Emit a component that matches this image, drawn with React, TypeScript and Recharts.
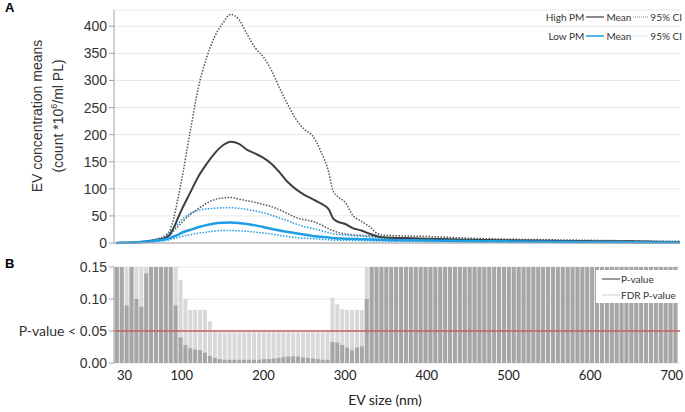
import React from 'react';
import { ComposedChart, Line, Bar, XAxis, YAxis, CartesianGrid, ReferenceLine } from 'recharts';

// EV size (nm) for the concentration curves
const sizes = [20, 30, 40, 50, 60, 70, 80, 85, 90, 95, 100, 110, 120, 130, 140, 150, 160, 170, 180, 190, 200, 210, 220, 230, 240, 250, 260, 270, 280, 285, 290, 300, 310, 320, 330, 340, 350, 375, 400, 450, 500, 550, 600, 650, 700, 710];
const highMean = [0, 0.5, 1, 2, 3.5, 6, 10, 15, 28, 45, 62, 92, 122, 145, 165, 180, 187, 183, 172, 165, 157, 146, 130, 112, 99, 89, 81, 73, 62, 46, 40, 35, 27, 23, 17, 12, 10, 9, 8, 6, 5, 4, 3.5, 3, 2, 2];
const highUpper = [0, 0.6, 1.3, 2.5, 4.5, 8, 14, 22, 45, 80, 118, 203, 285, 340, 380, 405, 422, 412, 385, 360, 343, 318, 285, 255, 228, 210, 198, 170, 130, 97, 87, 75, 50, 40, 30, 17, 14, 13, 12, 9, 7, 6, 5, 4, 3, 3];
const highLower = [0, 0.3, 0.6, 1.2, 2, 4, 8, 13, 22, 30, 38, 52, 63, 73, 80, 83, 84, 81, 78, 75, 71, 67, 61, 54, 47, 43, 40, 34, 26, 23, 20, 17, 15, 14, 13, 12, 10, 7, 6, 4.5, 3.5, 3, 2.5, 2, 1.5, 1.5];
const lowMean = [0, 0.5, 1, 1.8, 3, 5, 7, 9, 12, 15, 19, 24, 29, 33, 36, 37.5, 38, 37, 35, 32.5, 29.5, 26, 23, 20.5, 18, 15.5, 13, 11.5, 10, 9, 8.5, 8, 7.5, 7, 6.5, 6, 5.5, 5, 4.5, 3.5, 3, 2.5, 2, 1.5, 1, 1];
const lowUpper = [0, 0.6, 1.2, 2.2, 4, 7, 12, 20, 27, 35, 43, 54, 60, 63, 64, 65, 65, 64, 62, 59, 56, 51, 46, 41, 35, 30, 27, 23, 19, 17, 16, 14.5, 13.5, 12.5, 11, 10, 9, 8, 7, 5.5, 4.5, 3.5, 3, 2.5, 2, 2];
const lowLower = [0, 0.3, 0.6, 1, 1.8, 3, 4.5, 6, 8, 10, 12, 15, 18, 20, 22, 23, 23, 22.5, 21.5, 20, 18.5, 16.5, 14, 12, 10, 9, 8, 7, 6, 5.5, 5.2, 5, 4.8, 4.5, 4, 3.8, 3.5, 3, 2.5, 2, 1.5, 1.2, 1, 0.8, 0.5, 0.5];

// size bins for the P-value panel
const bins = [21, 27, 33, 39, 45, 51, 57, 63, 69, 75, 81, 87, 93, 99, 105, 111, 117, 123, 129, 135, 141, 147, 153, 159, 165, 171, 177, 183, 189, 195, 201, 207, 213, 219, 225, 231, 237, 243, 249, 255, 261, 267, 273, 279, 285, 291, 297, 303, 309, 315, 321, 327, 333, 339, 345, 351, 357, 363, 369, 375, 381, 387, 393, 399, 405, 411, 417, 423, 429, 435, 441, 447, 453, 459, 465, 471, 477, 483, 489, 495, 501, 507, 513, 519, 525, 531, 537, 543, 549, 555, 561, 567, 573, 579, 585, 591, 597, 603, 609, 615, 621, 627, 633, 639, 645, 651, 657, 663, 669, 675, 681, 687, 693, 699, 705];
const pValue = [0.31, 0.16, 0.09, 0.17, 0.1, 0.088, 0.14, 0.22, 0.35, 0.41, 0.3, 0.19, 0.09, 0.04, 0.028, 0.023, 0.021, 0.02, 0.016, 0.011, 0.008, 0.006, 0.005, 0.005, 0.005, 0.005, 0.005, 0.005, 0.005, 0.005, 0.006, 0.006, 0.007, 0.008, 0.009, 0.01, 0.0105, 0.01, 0.009, 0.008, 0.007, 0.006, 0.005, 0.005, 0.033, 0.032, 0.028, 0.024, 0.02, 0.024, 0.026, 0.1, 0.21, 0.33, 0.42, 0.5, 0.55, 0.48, 0.6, 0.62, 0.58, 0.66, 0.7, 0.64, 0.71, 0.68, 0.73, 0.75, 0.7, 0.77, 0.8, 0.74, 0.79, 0.82, 0.78, 0.84, 0.8, 0.86, 0.83, 0.88, 0.85, 0.87, 0.9, 0.86, 0.89, 0.91, 0.88, 0.9, 0.92, 0.9, 0.93, 0.91, 0.94, 0.92, 0.93, 0.95, 0.94, 0.93, 0.96, 0.95, 0.94, 0.96, 0.97, 0.95, 0.96, 0.97, 0.96, 0.98, 0.97, 0.96, 0.98, 0.97, 0.98, 0.99, 0.98];
const fdrPValue = [0.62, 0.4, 0.35, 0.4, 0.35, 0.34, 0.4, 0.5, 0.6, 0.65, 0.55, 0.45, 0.3, 0.13, 0.1, 0.083, 0.083, 0.083, 0.083, 0.065, 0.05, 0.048, 0.048, 0.048, 0.048, 0.048, 0.048, 0.048, 0.048, 0.048, 0.048, 0.048, 0.048, 0.048, 0.048, 0.048, 0.048, 0.048, 0.048, 0.048, 0.048, 0.048, 0.048, 0.048, 0.102, 0.092, 0.084, 0.083, 0.083, 0.083, 0.083, 0.2, 0.4, 0.52, 0.6, 0.66, 0.7, 0.66, 0.75, 0.76, 0.74, 0.79, 0.81, 0.78, 0.82, 0.8, 0.83, 0.85, 0.82, 0.86, 0.88, 0.84, 0.87, 0.89, 0.86, 0.9, 0.88, 0.91, 0.9, 0.92, 0.91, 0.92, 0.94, 0.92, 0.93, 0.95, 0.93, 0.94, 0.96, 0.95, 0.96, 0.95, 0.97, 0.96, 0.96, 0.97, 0.97, 0.96, 0.98, 0.97, 0.97, 0.98, 0.98, 0.97, 0.98, 0.99, 0.98, 0.99, 0.99, 0.98, 0.99, 0.99, 0.99, 0.99, 0.99];

const yTicksTop = [0, 50, 100, 150, 200, 250, 300, 350, 400];
const yTicksBottom = [0, 0.05, 0.1, 0.15];
const xTicks = [30, 100, 200, 300, 400, 500, 600, 700];

const curveData = sizes.map((s, i) => ({
  size: s,
  highMean: highMean[i],
  highUpper: highUpper[i],
  highLower: highLower[i],
  lowMean: lowMean[i],
  lowUpper: lowUpper[i],
  lowLower: lowLower[i],
}));

const pData = bins.map((b, i) => ({ size: b, p: pValue[i], fdr: fdrPValue[i] }));

const ARIAL = '"Liberation Sans", Arial, sans-serif';
const CALIBRI = 'Lato, "Open Sans", sans-serif';
const DARK = '#404040';
const BLUE = '#1f9de6';

const BottomYTick = (props: any) => {
  const { x, y, payload } = props;
  const v = Number(payload.value);
  return (
    <text x={x} y={y} dy={5} textAnchor="end" fontSize={14} fill="#333">
      {v === 0.05 && <tspan fontFamily={CALIBRI} fontSize={14}>P-value &lt; </tspan>}
      <tspan fontFamily={ARIAL}>{v.toFixed(2)}</tspan>
    </text>
  );
};

const LegendRow = ({ group, color, dash }: { group: string; color: string; dash: string }) => (
  <div style={{ display: 'flex', alignItems: 'center', justifyContent: 'flex-end', height: 19 }}>
    <span>{group}</span>
    <svg width={18} height={6} style={{ margin: '0 2px' }}>
      <line x1={0} y1={3} x2={18} y2={3} stroke={color} strokeWidth={1.5} />
    </svg>
    <span>Mean</span>
    <svg width={15} height={6} style={{ margin: '0 2px' }}>
      <line x1={0} y1={3} x2={15} y2={3} stroke={dash} strokeWidth={1} strokeDasharray="1 1" />
    </svg>
    <span>95% CI</span>
  </div>
);

export default function App() {
  return (
    <div style={{ position: 'absolute', left: 0, top: 0, width: 685, height: 412, background: '#fff', overflow: 'hidden' }}>
      <div style={{ position: 'absolute', left: 5, top: 0, fontFamily: ARIAL, fontWeight: 'bold', fontSize: 13 }}>A</div>
      <div style={{ position: 'absolute', left: 5, top: 256, fontFamily: ARIAL, fontWeight: 'bold', fontSize: 13 }}>B</div>

      {/* Panel A: EV concentration */}
      <div style={{ position: 'absolute', left: 0, top: 0 }}>
        <ComposedChart width={685} height={250} data={curveData} margin={{ top: 10, right: 5, bottom: 0, left: 0 }}>
          <CartesianGrid vertical={false} stroke="#e8e8e8" />
          <XAxis dataKey="size" type="number" domain={[17, 710]} tick={false} tickLine={false} height={7} axisLine={{ stroke: '#a0a0a0' }} />
          <YAxis
            domain={[0, 430]}
            ticks={yTicksTop}
            interval={0}
            width={114}
            tickSize={5}
            tickLine={{ stroke: '#a0a0a0' }}
            axisLine={{ stroke: '#a0a0a0' }}
            tick={{ fontFamily: ARIAL, fontSize: 14, fill: '#333' }}
          />
          <Line dataKey="highUpper" type="monotone" stroke="#555" strokeWidth={1.5} strokeDasharray="1.5 1.5" dot={false} isAnimationActive={false} />
          <Line dataKey="highLower" type="monotone" stroke="#555" strokeWidth={1.5} strokeDasharray="1.5 1.5" dot={false} isAnimationActive={false} />
          <Line dataKey="lowUpper" type="monotone" stroke={BLUE} strokeWidth={1.5} strokeDasharray="1.5 1.5" dot={false} isAnimationActive={false} />
          <Line dataKey="lowLower" type="monotone" stroke={BLUE} strokeWidth={1.5} strokeDasharray="1.5 1.5" dot={false} isAnimationActive={false} />
          <Line dataKey="highMean" type="monotone" stroke={DARK} strokeWidth={2} dot={false} isAnimationActive={false} />
          <Line dataKey="lowMean" type="monotone" stroke={BLUE} strokeWidth={2.5} dot={false} isAnimationActive={false} />
        </ComposedChart>
      </div>

      {/* y label of panel A */}
      <svg style={{ position: 'absolute', left: 0, top: 0 }} width={110} height={250}>
        <text transform="translate(42,116) rotate(-90)" textAnchor="middle" fontFamily={ARIAL} fontSize={14} fill="#333">
          EV concentration means
        </text>
        <text transform="translate(63,116) rotate(-90)" textAnchor="middle" fontFamily={ARIAL} fontSize={14} fill="#333">
          (count *10<tspan dy={-6} fontSize={9}>6</tspan><tspan dy={6}>/ml PL)</tspan>
        </text>
      </svg>

      {/* legend of panel A */}
      <div style={{ position: 'absolute', right: 3, top: 7, fontFamily: CALIBRI, fontSize: 10, color: '#333' }}>
        <LegendRow group="High PM" color="#666" dash="#888" />
        <LegendRow group="Low PM" color={BLUE} dash="#9fd3f3" />
      </div>

      {/* Panel B: P-values */}
      <div style={{ position: 'absolute', left: 0, top: 250 }}>
        <ComposedChart width={685} height={162} data={pData} margin={{ top: 17, right: 5, bottom: 0, left: 0 }}>
          <CartesianGrid vertical={false} stroke="#e8e8e8" />
          <XAxis xAxisId="f" dataKey="size" type="number" domain={[17, 710]} height={0} hide />
          <XAxis
            xAxisId="p"
            dataKey="size"
            type="number"
            domain={[17, 710]}
            ticks={xTicks}
            interval={0}
            height={49}
            tickLine={false}
            axisLine={false}
            tick={{ fontFamily: CALIBRI, fontSize: 13, fill: '#222' }}
          />
          <YAxis
            domain={[0, 0.15]}
            allowDataOverflow
            ticks={yTicksBottom}
            interval={0}
            width={114}
            tickSize={5}
            tickLine={{ stroke: '#a0a0a0' }}
            axisLine={{ stroke: '#a0a0a0' }}
            tick={<BottomYTick />}
          />
          <Bar xAxisId="f" dataKey="fdr" fill="#d9d9d9" barSize={4} isAnimationActive={false} />
          <Bar xAxisId="p" dataKey="p" fill="#a6a6a6" barSize={4} isAnimationActive={false} />
          <ReferenceLine xAxisId="p" y={0.05} stroke="#c46060" strokeWidth={1.5} />
        </ComposedChart>
      </div>

      {/* legend of panel B */}
      <div style={{ position: 'absolute', left: 596, top: 270, width: 84, height: 33, background: '#fff', fontFamily: CALIBRI, fontSize: 10, color: '#333', whiteSpace: 'nowrap' }}>
        <div style={{ display: 'flex', alignItems: 'center', height: 16, marginTop: 1 }}>
          <svg width={18} height={6} style={{ marginLeft: 6 }}><line x1={0} y1={3} x2={18} y2={3} stroke="#595959" strokeWidth={1.2} /></svg>
          <span style={{ marginLeft: 1 }}>P-value</span>
        </div>
        <div style={{ display: 'flex', alignItems: 'center', height: 16 }}>
          <svg width={18} height={6} style={{ marginLeft: 6 }}><line x1={0} y1={3} x2={18} y2={3} stroke="#d4d4d4" strokeWidth={1.2} /></svg>
          <span style={{ marginLeft: 1 }}>FDR P-value</span>
        </div>
      </div>

      <div style={{ position: 'absolute', left: 0, width: 770, top: 391, textAlign: 'center', fontFamily: CALIBRI, fontSize: 14, color: '#222' }}>
        EV size (nm)
      </div>
    </div>
  );
}
